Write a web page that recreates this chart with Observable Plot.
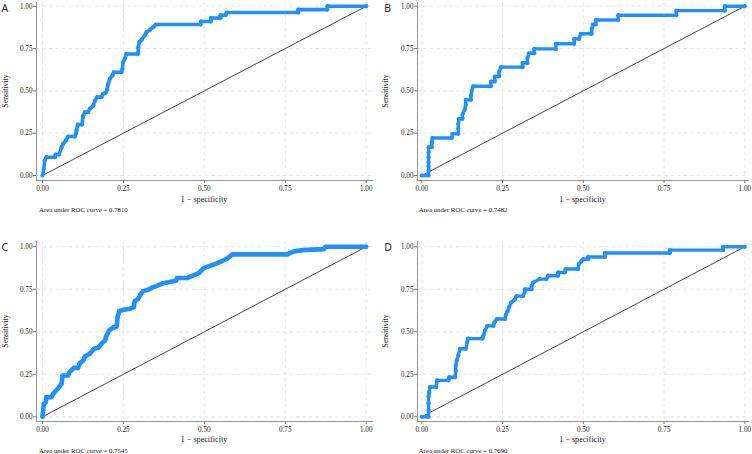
<!DOCTYPE html>
<html>
<head>
<meta charset="utf-8">
<script src="https://cdn.jsdelivr.net/npm/d3@7"></script>
<script src="https://cdn.jsdelivr.net/npm/@observablehq/plot@0.6"></script>
<style>
  html, body { margin: 0; padding: 0; background: #fff; }
  #wrap { position: relative; width: 752px; height: 454px; overflow: hidden; background: #fff; }
  .cell { position: absolute; width: 376px; height: 227px; }
</style>
</head>
<body>
<div id="wrap"></div>
<script>
// ---------------- data ----------------
const tickValues = [0, 0.25, 0.5, 0.75, 1];
const diagX = [0, 1];
const diagY = [0, 1];
const panelLetters = ["A", "B", "C", "D"];
const aucValues = ["0.7810", "0.7482", "0.7545", "0.7690"];
const xTitle = "1 − specificity";
const yTitle = "Sensitivity";
const captionPrefix = "Area under ROC curve = ";

const fprA = [0, 0.004, 0.007, 0.012, 0.038, 0.041, 0.051, 0.059, 0.064, 0.072, 0.079, 0.100, 0.103, 0.105, 0.109, 0.122, 0.126, 0.131, 0.141, 0.146, 0.157, 0.162, 0.169, 0.182, 0.187, 0.196, 0.200, 0.203, 0.208, 0.216, 0.220, 0.244, 0.247, 0.249, 0.254, 0.259, 0.295, 0.296, 0.299, 0.306, 0.316, 0.321, 0.332, 0.342, 0.350, 0.488, 0.490, 0.520, 0.520, 0.550, 0.550, 0.565, 0.570, 0.790, 0.790, 0.880, 0.880, 1];
const tprA = [0, 0.040, 0.089, 0.108, 0.108, 0.124, 0.124, 0.167, 0.187, 0.207, 0.230, 0.230, 0.246, 0.266, 0.301, 0.301, 0.354, 0.374, 0.374, 0.394, 0.413, 0.443, 0.463, 0.463, 0.482, 0.490, 0.510, 0.541, 0.571, 0.591, 0.610, 0.610, 0.630, 0.669, 0.689, 0.718, 0.718, 0.758, 0.787, 0.801, 0.827, 0.846, 0.860, 0.876, 0.892, 0.892, 0.910, 0.910, 0.930, 0.930, 0.947, 0.947, 0.963, 0.963, 0.980, 0.980, 1.0, 1];

const fprB = [0, 0.021, 0.021, 0.021, 0.021, 0.021, 0.021, 0.021, 0.031, 0.031, 0.033, 0.093, 0.095, 0.113, 0.113, 0.113, 0.115, 0.126, 0.126, 0.133, 0.136, 0.136, 0.152, 0.152, 0.155, 0.159, 0.214, 0.214, 0.226, 0.226, 0.239, 0.239, 0.245, 0.312, 0.312, 0.327, 0.327, 0.332, 0.348, 0.348, 0.415, 0.415, 0.472, 0.472, 0.487, 0.492, 0.526, 0.526, 0.530, 0.539, 0.539, 0.608, 0.608, 0.788, 0.788, 0.938, 0.938, 1];
const tprB = [0, 0, 0.030, 0.055, 0.079, 0.108, 0.138, 0.167, 0.167, 0.197, 0.222, 0.222, 0.246, 0.246, 0.276, 0.305, 0.335, 0.335, 0.360, 0.388, 0.417, 0.447, 0.447, 0.472, 0.502, 0.527, 0.527, 0.555, 0.555, 0.585, 0.585, 0.610, 0.640, 0.640, 0.665, 0.665, 0.695, 0.722, 0.722, 0.748, 0.748, 0.778, 0.778, 0.807, 0.807, 0.837, 0.837, 0.866, 0.892, 0.892, 0.919, 0.919, 0.947, 0.947, 0.974, 0.974, 1.0, 1];

const fprC = [0, 0.002, 0.004, 0.010, 0.012, 0.028, 0.033, 0.043, 0.051, 0.059, 0.062, 0.079, 0.084, 0.097, 0.110, 0.115, 0.126, 0.131, 0.146, 0.159, 0.172, 0.182, 0.193, 0.198, 0.206, 0.218, 0.229, 0.232, 0.237, 0.251, 0.270, 0.282, 0.285, 0.296, 0.303, 0.311, 0.326, 0.342, 0.357, 0.373, 0.412, 0.416, 0.447, 0.457, 0.483, 0.498, 0.529, 0.550, 0.570, 0.586, 0.756, 0.777, 0.800, 0.869, 0.874, 1];
const tprC = [0, 0.037, 0.076, 0.086, 0.116, 0.116, 0.135, 0.155, 0.175, 0.194, 0.243, 0.243, 0.263, 0.288, 0.288, 0.316, 0.331, 0.355, 0.371, 0.400, 0.406, 0.429, 0.449, 0.478, 0.508, 0.524, 0.531, 0.586, 0.622, 0.629, 0.635, 0.645, 0.680, 0.694, 0.720, 0.739, 0.747, 0.763, 0.773, 0.786, 0.800, 0.816, 0.816, 0.825, 0.845, 0.875, 0.895, 0.912, 0.930, 0.955, 0.955, 0.973, 0.980, 0.986, 1.0, 1];

const fprD = [0, 0.021, 0.021, 0.021, 0.021, 0.023, 0.025, 0.045, 0.047, 0.083, 0.085, 0.103, 0.105, 0.105, 0.108, 0.113, 0.118, 0.136, 0.141, 0.143, 0.188, 0.191, 0.196, 0.203, 0.222, 0.225, 0.232, 0.258, 0.260, 0.265, 0.270, 0.277, 0.288, 0.293, 0.314, 0.319, 0.319, 0.340, 0.340, 0.345, 0.365, 0.386, 0.391, 0.422, 0.422, 0.443, 0.445, 0.484, 0.486, 0.494, 0.500, 0.515, 0.515, 0.567, 0.567, 0.768, 0.768, 0.933, 0.933, 1];
const tprD = [0, 0, 0.040, 0.080, 0.120, 0.145, 0.175, 0.175, 0.214, 0.214, 0.233, 0.233, 0.270, 0.300, 0.330, 0.360, 0.400, 0.400, 0.440, 0.460, 0.460, 0.480, 0.510, 0.535, 0.535, 0.555, 0.575, 0.575, 0.600, 0.620, 0.643, 0.673, 0.690, 0.710, 0.710, 0.740, 0.750, 0.750, 0.770, 0.790, 0.810, 0.810, 0.830, 0.830, 0.849, 0.849, 0.869, 0.869, 0.898, 0.914, 0.927, 0.927, 0.940, 0.940, 0.963, 0.963, 0.980, 0.980, 1.0, 1];

const seriesFpr = [fprA, fprB, fprC, fprD];
const seriesTpr = [tprA, tprB, tprC, tprD];

// ---------------- layout ----------------
const W = 376, H = 227;
const layouts = [
  {left: 0,   top: 0,   ml: 36, mt: 2,  mb: 47, xdom: [-0.0185, 1.0195], ydom: [-0.0295, 1.022], letterX: 1.5, letterY: 11.5, ytX: 6,  xtY: 200, capX: 39,   capY: 210, sw: 3.6},
  {left: 376, top: 0,   ml: 41, mt: 2,  mb: 47, xdom: [-0.0133, 1.0115], ydom: [-0.0295, 1.022], letterX: 8.3, letterY: 11.5, ytX: 10.3, xtY: 200, capX: 42.7, capY: 210, sw: 3.4},
  {left: 0,   top: 227, ml: 36, mt: 14, mb: 33, xdom: [-0.0185, 1.0195], ydom: [-0.0276, 1.031], letterX: 1.5, letterY: 24, ytX: 6.3, xtY: 213.5, capX: 39,  capY: 224, sw: 4.6},
  {left: 376, top: 227, ml: 41, mt: 14, mb: 33, xdom: [-0.0133, 1.0115], ydom: [-0.0276, 1.031], letterX: 8.3, letterY: 24, ytX: 10.3, xtY: 213.5, capX: 42.7, capY: 224, sw: 3.4}
];

const blue = "#2190fb";
const serif = "'Liberation Serif', 'Times New Roman', serif";
const wrap = document.getElementById("wrap");

layouts.forEach((L, i) => {
  const data = seriesFpr[i].map((f, k) => ({fpr: f, tpr: seriesTpr[i][k]}));
  const diag = diagX.map((v, k) => ({x: v, y: diagY[k]}));
  const mr = 4;
  const svg = Plot.plot({
    width: W, height: H,
    marginLeft: L.ml, marginRight: mr, marginTop: L.mt, marginBottom: L.mb,
    x: {domain: L.xdom},
    y: {domain: L.ydom},
    style: {fontFamily: serif, fontSize: "7.2px", background: "#fff", color: "#222", overflow: "visible"},
    marks: [
      Plot.gridX(tickValues, {stroke: "#d9d9d9", strokeOpacity: 1, strokeWidth: 0.6, strokeDasharray: "3.5,3"}),
      Plot.gridY(tickValues, {stroke: "#d9d9d9", strokeOpacity: 1, strokeWidth: 0.6, strokeDasharray: "3.5,3"}),
      Plot.frame({anchor: "left", stroke: "#7a7a7a", strokeWidth: 0.8}),
      Plot.frame({anchor: "bottom", stroke: "#7a7a7a", strokeWidth: 0.8}),
      Plot.axisX({ticks: tickValues, tickFormat: d3.format(".2f"), tickSize: 3, tickPadding: 2, label: null, stroke: "#7a7a7a", fill: "#222"}),
      Plot.axisY({ticks: tickValues, tickFormat: d3.format(".2f"), tickSize: 3, tickPadding: 1, label: null, stroke: "#7a7a7a", fill: "#222"}),
      Plot.line(diag, {x: "x", y: "y", stroke: "#333", strokeWidth: 0.9}),
      Plot.line(data, {x: "fpr", y: "tpr", stroke: blue, strokeWidth: L.sw, strokeLinejoin: "round", strokeLinecap: "round"}),
      Plot.dot(data, {x: "fpr", y: "tpr", r: 2.1, fill: blue, stroke: "none"})
    ]
  });
  const cell = document.createElement("div");
  cell.className = "cell";
  cell.style.left = L.left + "px";
  cell.style.top = L.top + "px";
  cell.appendChild(svg);
  wrap.appendChild(cell);

  const s = d3.select(svg);
  const frameMidX = (L.ml + (W - mr)) / 2;
  const frameMidY = (L.mt + (H - L.mb)) / 2;
  s.append("text")
    .attr("x", L.letterX).attr("y", L.letterY)
    .attr("text-anchor", "start")
    .attr("font-family", "'Noto Sans', 'DejaVu Sans', sans-serif")
    .attr("font-size", 10.5).attr("fill", "#222")
    .text(panelLetters[i]);
  s.append("text")
    .attr("transform", `translate(${L.ytX},${frameMidY}) rotate(-90)`)
    .attr("text-anchor", "middle").attr("dominant-baseline", "middle")
    .attr("font-family", serif).attr("font-size", 7.8).attr("fill", "#222")
    .text(yTitle);
  s.append("text")
    .attr("x", frameMidX).attr("y", L.xtY)
    .attr("text-anchor", "middle").attr("dominant-baseline", "middle")
    .attr("font-family", serif).attr("font-size", 8.1).attr("fill", "#222")
    .text(xTitle);
  s.append("text")
    .attr("x", L.capX).attr("y", L.capY)
    .attr("text-anchor", "start")
    .attr("dominant-baseline", "middle")
    .attr("font-family", serif).attr("font-size", 6.8).attr("fill", "#222")
    .text(captionPrefix + aucValues[i]);
});
</script>
</body>
</html>
